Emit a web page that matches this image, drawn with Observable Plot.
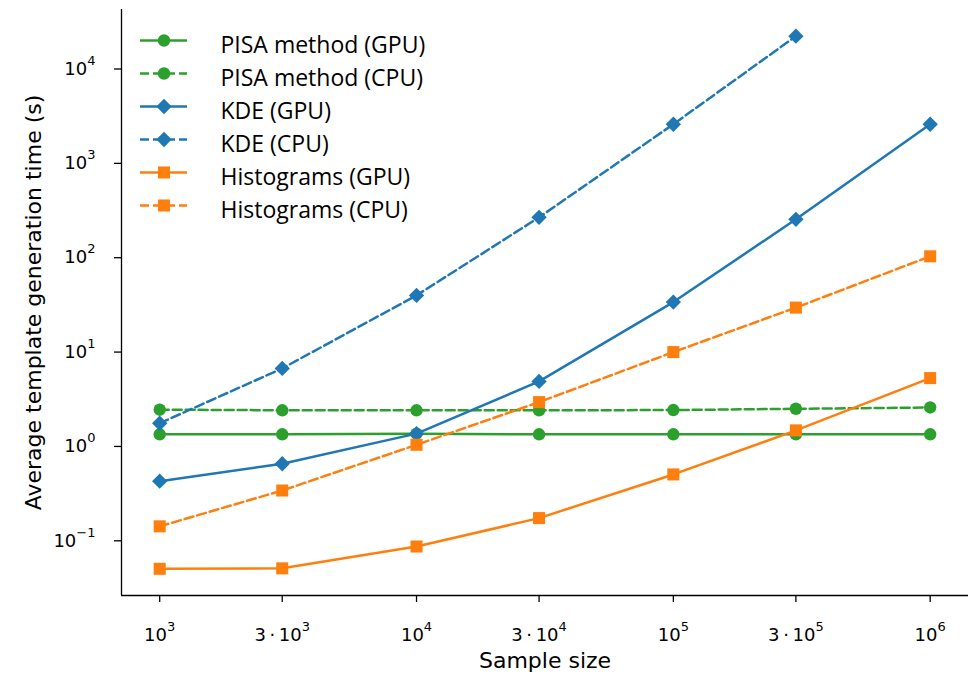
<!DOCTYPE html>
<html><head><meta charset="utf-8">
<script src="https://cdn.jsdelivr.net/npm/d3@7"></script>
<script src="https://cdn.jsdelivr.net/npm/@observablehq/plot@0.6"></script>
<style>
html,body{margin:0;padding:0;background:#fff;}
#wrap{position:relative;width:971px;height:677px;overflow:hidden;}
#legend{position:absolute;left:120px;top:20px;}
</style></head>
<body><div id="wrap"><div id="chart"></div><div id="legend"></div></div>
<script>
// ---- data ----
const sampleSizes = [1e3, 3e3, 1e4, 3e4, 1e5, 3e5, 1e6];
const pisaGPU = [1.19, 1.19, 1.21, 1.19, 1.19, 1.19, 1.19];
const pisaCPU = [2.17, 2.14, 2.14, 2.14, 2.15, 2.22, 2.29];
const kdeGPU  = [0.379, 0.58, 1.21, 4.33, 30.0, 226, 2300];
const kdeCPU  = [1.56, 5.94, 35.3, 237, 2300, 19700];
const histGPU = [0.0447, 0.0452, 0.077, 0.154, 0.447, 1.31, 4.69];
const histCPU = [0.126, 0.302, 0.922, 2.61, 8.85, 26.2, 91.6];
const seriesNames = ["PISA method (GPU)", "PISA method (CPU)", "KDE (GPU)", "KDE (CPU)", "Histograms (GPU)", "Histograms (CPU)"];
const seriesValues = [pisaGPU, pisaCPU, kdeGPU, kdeCPU, histGPU, histCPU];
const xTicks = [1e3, 3e3, 1e4, 3e4, 1e5, 3e5, 1e6];
const xTickLabels = ["10^3", "3\u2009·\u200910^3", "10^4", "3\u2009·\u200910^4", "10^5", "3\u2009·\u200910^5", "10^6"];
const yTicks = [0.1, 1, 10, 100, 1000, 10000];
const yTickLabels = ["10^\u22121", "10^0", "10^1", "10^2", "10^3", "10^4"];
const xLabel = "Sample size";
const yLabel = "Average template generation time (s)";
const xDomain = [710, 1.41e6];
const yDomain = [0.0233, 37800];

// ---- styles ----
const GREEN = "#2ca02c", BLUE = "#1f77b4", ORANGE = "#ff7f0e";
const styles = [
  {color: GREEN, dash: null, symbol: "circle", r: 6.2},
  {color: GREEN, dash: "9,4", symbol: "circle", r: 6.2},
  {color: BLUE, dash: null, symbol: "diamond2", r: 6.9},
  {color: BLUE, dash: "9,4", symbol: "diamond2", r: 6.9},
  {color: ORANGE, dash: null, symbol: "square", r: 6.8},
  {color: ORANGE, dash: "9,4", symbol: "square", r: 6.8}
];
const LW = 2.5;

const rows = seriesNames.map((name, k) =>
  seriesValues[k].map((v, i) => ({name, x: sampleSizes[i], y: v})));

const xLabelMap = new Map(xTicks.map((t, i) => [t, xTickLabels[i]]));
const yLabelMap = new Map(yTicks.map((t, i) => [t, yTickLabels[i]]));

const seriesMarks = seriesNames.flatMap((name, k) => {
  const s = styles[k];
  return [
    Plot.line(rows[k], {x: "x", y: "y", stroke: s.color, strokeWidth: LW, strokeDasharray: s.dash ?? undefined}),
    Plot.dot(rows[k], {x: "x", y: "y", symbol: s.symbol, r: s.r, fill: s.color, stroke: "none"})
  ];
});

const chart = Plot.plot({
  width: 971,
  height: 677,
  marginLeft: 121,
  marginRight: 3,
  marginTop: 9,
  marginBottom: 82,
  style: {fontFamily: "DejaVu Sans", fontSize: "18px", color: "black", background: "white", overflow: "visible"},
  x: {type: "log", domain: xDomain},
  y: {type: "log", domain: yDomain},
  marks: [
    Plot.axisX({ticks: xTicks, tickSize: 7, tickPadding: 26, tickFormat: d => xLabelMap.get(d), label: null, strokeWidth: 1.3}),
    Plot.axisY({ticks: yTicks, tickSize: 7, tickPadding: 19, tickFormat: d => yLabelMap.get(d), label: null, strokeWidth: 1.3, dy: 5}),
    Plot.ruleX([xDomain[0]], {stroke: "black", strokeWidth: 1.3}),
    Plot.ruleY([yDomain[0]], {stroke: "black", strokeWidth: 1.3}),
    Plot.text([xLabel], {frameAnchor: "bottom", lineAnchor: "middle", textAnchor: "middle", dy: 65, text: d => d, fontSize: 22, fill: "black"}),
    Plot.text([yLabel], {frameAnchor: "left", lineAnchor: "middle", textAnchor: "middle", dx: -88, rotate: -90, text: d => d, fontSize: 22, fill: "black"}),
    ...seriesMarks
  ]
});
document.getElementById("chart").append(chart);

// superscripts in tick labels
const NS = "http://www.w3.org/2000/svg";
chart.querySelectorAll("text").forEach(t => {
  const s = t.textContent;
  if (!s.includes("^")) return;
  const [b, e] = s.split("^");
  t.textContent = "";
  const t1 = document.createElementNS(NS, "tspan");
  t1.textContent = b;
  const t2 = document.createElementNS(NS, "tspan");
  t2.setAttribute("dy", "-10");
  t2.setAttribute("font-size", "13");
  t2.textContent = e;
  t.append(t1, t2);
});

// legend
const legendMarks = seriesNames.flatMap((name, k) => {
  const s = styles[k];
  return [
    Plot.ruleY([name], {x1: 0, x2: 1, stroke: s.color, strokeWidth: LW, strokeDasharray: s.dash ?? undefined}),
    Plot.dot([name], {x: 0.5, y: d => d, symbol: s.symbol, r: s.r, fill: s.color, stroke: "none"}),
    Plot.text([name], {x: 1, y: d => d, text: d => d, dx: 33, dy: 5, textAnchor: "start", fontFamily: "Open Sans", fontSize: 23, fill: "black"})
  ];
});
const legend = Plot.plot({
  width: 330,
  height: 205,
  marginLeft: 20,
  marginRight: 263,
  marginTop: 20,
  marginBottom: 20,
  style: {background: "transparent", overflow: "visible"},
  x: {domain: [0, 1], axis: null},
  y: {type: "point", domain: seriesNames, padding: 0, axis: null},
  marks: legendMarks
});
document.getElementById("legend").append(legend);
</script>
</body></html>
